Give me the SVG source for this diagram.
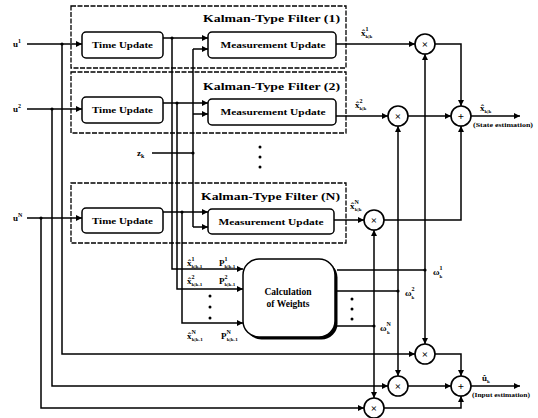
<svg xmlns="http://www.w3.org/2000/svg" width="538" height="418" viewBox="0 0 538 418">
<defs>
<marker id="ar" markerWidth="6" markerHeight="6" refX="6" refY="3" orient="auto" markerUnits="userSpaceOnUse"><path d="M0,0 L6,3 L0,6 z" fill="#000"/></marker>
<style>
.ln{stroke:#000;stroke-width:1.5;fill:none}
.a{marker-end:url(#ar)}
.box{fill:#fff;stroke:#000;stroke-width:1.5}
.dash{fill:none;stroke:#000;stroke-width:1.3;stroke-dasharray:5 1.5}
.t{font-family:"Liberation Serif",serif;font-weight:bold;fill:#000}
.c{fill:#fff;stroke:#000;stroke-width:1.6}
.dot{fill:#000}
</style>
</defs>
<rect width="538" height="418" fill="#fff"/>

<g id="connectors">
<path class="ln a" d="M27,44 H82"/>
<path class="ln a" d="M27,109 H82"/>
<path class="ln a" d="M27,218 H82"/>
<path class="ln a" d="M62,44 V354 H415"/>
<path class="ln a" d="M52,109 V386 H388"/>
<path class="ln a" d="M41,218 V408 H364"/>
<path class="ln a" d="M163,38 H208"/>
<path class="ln a" d="M163,103 H208"/>
<path class="ln a" d="M163,212 H208"/>
<path class="ln a" d="M172,38 V269 H243"/>
<path class="ln a" d="M177,103 V289 H243"/>
<path class="ln a" d="M182,212 V323 H243"/>
<path class="ln" d="M152,153 H193"/>
<path class="ln" d="M193,49 V227"/>
<path class="ln a" d="M193,49 H208"/>
<path class="ln a" d="M193,114 H208"/>
<path class="ln a" d="M193,227 H208"/>
<path class="ln a" d="M336,44 H415"/>
<path class="ln a" d="M336,116 H388"/>
<path class="ln a" d="M334,220 H364"/>
<path class="ln a" d="M435,44 H461 V106"/>
<path class="ln a" d="M408,116 H451"/>
<path class="ln a" d="M384,220 H461 V126"/>
<path class="ln a" d="M471,116 H520"/>
<path class="ln a" d="M435,354 H461 V376"/>
<path class="ln a" d="M408,386 H451"/>
<path class="ln a" d="M384,408 H461 V396"/>
<path class="ln a" d="M471,386 H520"/>
<path class="ln" d="M337,270 H425"/>
<path class="ln" d="M337,291 H398"/>
<path class="ln" d="M337,326 H374"/>
<path class="ln a" d="M425,270 V54"/>
<path class="ln a" d="M425,270 V344"/>
<path class="ln a" d="M398,291 V126"/>
<path class="ln a" d="M398,291 V376"/>
<path class="ln a" d="M374,326 V230"/>
<path class="ln a" d="M374,326 V398"/>
<circle class="dot" cx="62" cy="44" r="1.6"/>
<circle class="dot" cx="52" cy="109" r="1.6"/>
<circle class="dot" cx="41" cy="218" r="1.6"/>
<circle class="dot" cx="172" cy="38" r="1.6"/>
<circle class="dot" cx="177" cy="103" r="1.6"/>
<circle class="dot" cx="182" cy="212" r="1.6"/>
<circle class="dot" cx="193" cy="153" r="1.6"/>
<circle class="dot" cx="425" cy="270" r="1.6"/>
<circle class="dot" cx="398" cy="291" r="1.6"/>
<circle class="dot" cx="374" cy="326" r="1.6"/>
</g>

<g id="inputs">
<text class="t" x="13" y="47" font-size="9">u<tspan font-size="6" dy="-4">1</tspan></text>
<text class="t" x="13" y="112" font-size="9">u<tspan font-size="6" dy="-4">2</tspan></text>
<text class="t" x="13" y="221" font-size="9">u<tspan font-size="6" dy="-4">N</tspan></text>
<text class="t" x="137" y="156" font-size="9">z<tspan font-size="6" dy="2">k</tspan></text>
</g>

<g id="filter1">
<rect class="dash" x="71" y="6" width="275" height="62"/>
<text class="t" x="203" y="22" font-size="11" textLength="137" lengthAdjust="spacingAndGlyphs">Kalman-Type Filter (1)</text>
<g id="tu1"><rect class="box" x="82" y="32" width="81" height="26" rx="4"/>
<text class="t" x="122.5" y="48" font-size="9" text-anchor="middle" textLength="61" lengthAdjust="spacingAndGlyphs">Time Update</text></g>
<g id="mu1"><rect class="box" x="208" y="32" width="128" height="26" rx="4"/>
<text class="t" x="273" y="48" font-size="9" text-anchor="middle" textLength="105" lengthAdjust="spacingAndGlyphs">Measurement Update</text></g>
</g>

<g id="filter2">
<rect class="dash" x="71" y="72" width="275" height="61"/>
<text class="t" x="203" y="90" font-size="11" textLength="137" lengthAdjust="spacingAndGlyphs">Kalman-Type Filter (2)</text>
<g id="tu2"><rect class="box" x="82" y="97" width="81" height="26" rx="4"/>
<text class="t" x="122.5" y="113" font-size="9" text-anchor="middle" textLength="61" lengthAdjust="spacingAndGlyphs">Time Update</text></g>
<g id="mu2"><rect class="box" x="208" y="99" width="128" height="26" rx="4"/>
<text class="t" x="273" y="115" font-size="9" text-anchor="middle" textLength="105" lengthAdjust="spacingAndGlyphs">Measurement Update</text></g>
</g>

<g id="vdots1"><circle class="dot" cx="260" cy="147" r="1.5"/><circle class="dot" cx="260" cy="157" r="1.5"/><circle class="dot" cx="260" cy="167" r="1.5"/></g>

<g id="filterN">
<rect class="dash" x="71" y="183" width="275" height="60"/>
<text class="t" x="201" y="200" font-size="11" textLength="139" lengthAdjust="spacingAndGlyphs">Kalman-Type Filter (N)</text>
<g id="tuN"><rect class="box" x="82" y="208" width="81" height="25" rx="4"/>
<text class="t" x="122.5" y="223.5" font-size="9" text-anchor="middle" textLength="61" lengthAdjust="spacingAndGlyphs">Time Update</text></g>
<g id="muN"><rect class="box" x="208" y="209" width="126" height="25" rx="4"/>
<text class="t" x="271" y="224.5" font-size="9" text-anchor="middle" textLength="105" lengthAdjust="spacingAndGlyphs">Measurement Update</text></g>
</g>

<g id="weights">
<rect x="245.5" y="261.5" width="92" height="78" rx="16" fill="#000"/>
<rect class="box" x="243" y="259" width="92" height="78" rx="16"/>
<text class="t" x="288" y="295" font-size="9.5" text-anchor="middle">Calculation</text>
<text class="t" x="288" y="307" font-size="9.5" text-anchor="middle">of Weights</text>
</g>
<g id="vdots2"><circle class="dot" cx="210" cy="296" r="1.5"/><circle class="dot" cx="210" cy="307" r="1.5"/><circle class="dot" cx="210" cy="318" r="1.5"/></g>
<g id="vdots3"><circle class="dot" cx="352" cy="299" r="1.5"/><circle class="dot" cx="352" cy="309" r="1.5"/><circle class="dot" cx="352" cy="319" r="1.5"/></g>

<g id="wlabels">
<text class="t" x="187" y="266" font-size="9">x̂<tspan font-size="6" dy="-5">1</tspan><tspan font-size="5" dx="-3" dy="7">k|k-1</tspan></text>
<text class="t" x="219" y="266" font-size="9">P<tspan font-size="6" dy="-5">1</tspan><tspan font-size="5" dx="-3" dy="7">k|k-1</tspan></text>
<text class="t" x="187" y="284" font-size="9">x̂<tspan font-size="6" dy="-5">2</tspan><tspan font-size="5" dx="-3" dy="7">k|k-1</tspan></text>
<text class="t" x="219" y="284" font-size="9">P<tspan font-size="6" dy="-5">2</tspan><tspan font-size="5" dx="-3" dy="7">k|k-1</tspan></text>
<text class="t" x="187" y="339" font-size="9">x̂<tspan font-size="6" dy="-5">N</tspan><tspan font-size="5" dx="-4" dy="7">k|k-1</tspan></text>
<text class="t" x="221" y="339" font-size="9">P<tspan font-size="6" dy="-5">N</tspan><tspan font-size="5" dx="-4" dy="7">k|k-1</tspan></text>
</g>

<g id="xlabels">
<text class="t" x="361" y="36" font-size="9">x̂<tspan font-size="6" dy="-5">1</tspan><tspan font-size="5" dx="-3" dy="7">k|k</tspan></text>
<text class="t" x="355" y="108" font-size="9">x̂<tspan font-size="6" dy="-5">2</tspan><tspan font-size="5" dx="-3" dy="7">k|k</tspan></text>
<text class="t" x="350" y="209" font-size="9">x̂<tspan font-size="6" dy="-5">N</tspan><tspan font-size="5" dx="-4" dy="7">k|k</tspan></text>
<text class="t" x="480" y="111" font-size="9">x̂<tspan font-size="5" dy="2">k|k</tspan></text>
<text class="t" x="473" y="127" font-size="6" textLength="60" lengthAdjust="spacingAndGlyphs">(State estimation)</text>
<text class="t" x="482" y="381" font-size="9">û<tspan font-size="5" dy="2">k</tspan></text>
<text class="t" x="472" y="397" font-size="6" textLength="58" lengthAdjust="spacingAndGlyphs">(Input estimation)</text>
<text class="t" x="433" y="275" font-size="9">ω<tspan font-size="6" dy="-5">1</tspan><tspan font-size="5" dx="-3" dy="8">k</tspan></text>
<text class="t" x="405" y="296" font-size="9">ω<tspan font-size="6" dy="-5">2</tspan><tspan font-size="5" dx="-3" dy="8">k</tspan></text>
<text class="t" x="380" y="331" font-size="9">ω<tspan font-size="6" dy="-5">N</tspan><tspan font-size="5" dx="-4" dy="8">k</tspan></text>
</g>

<g id="ops">
<g id="m1"><circle class="c" cx="425" cy="44" r="10"/><text class="t" x="425" y="48" font-size="11" text-anchor="middle">×</text></g>
<g id="m2"><circle class="c" cx="398" cy="116" r="10"/><text class="t" x="398" y="120" font-size="11" text-anchor="middle">×</text></g>
<g id="mN"><circle class="c" cx="374" cy="220" r="10"/><text class="t" x="374" y="224" font-size="11" text-anchor="middle">×</text></g>
<g id="s1"><circle class="c" cx="461" cy="116" r="10"/><text class="t" x="461" y="120" font-size="11" text-anchor="middle">+</text></g>
<g id="m1b"><circle class="c" cx="425" cy="354" r="10"/><text class="t" x="425" y="358" font-size="11" text-anchor="middle">×</text></g>
<g id="m2b"><circle class="c" cx="398" cy="386" r="10"/><text class="t" x="398" y="390" font-size="11" text-anchor="middle">×</text></g>
<g id="m3b"><circle class="c" cx="374" cy="408" r="10"/><text class="t" x="374" y="412" font-size="11" text-anchor="middle">×</text></g>
<g id="s2"><circle class="c" cx="461" cy="386" r="10"/><text class="t" x="461" y="390" font-size="11" text-anchor="middle">+</text></g>
</g>
</svg>
